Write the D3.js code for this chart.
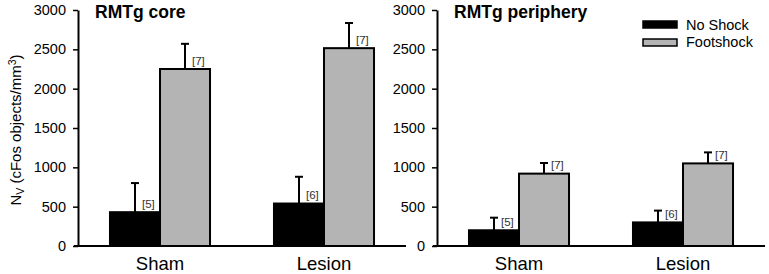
<!DOCTYPE html>
<html>
<head>
<meta charset="utf-8">
<script src="https://cdn.jsdelivr.net/npm/d3@7"></script>
<style>
  body { margin: 0; background: #fff; }
  svg { font-family: "Liberation Sans", Arial, sans-serif; }
</style>
</head>
<body>
<div id="chart"></div>
<script>
// data
const groups = ["Sham", "Lesion"];
const conditions = ["No Shock", "Footshock"];
const yTicks = [0, 500, 1000, 1500, 2000, 2500, 3000];

const coreMean = [[430, 2250], [540, 2515]];
const coreErr = [[370, 320], [340, 320]];
const coreN = [["[5]", "[7]"], ["[6]", "[7]"]];

const periMean = [[200, 920], [300, 1050]];
const periErr = [[160, 135], [150, 140]];
const periN = [["[5]", "[7]"], ["[6]", "[7]"]];

const fills = ["#000000", "#b4b4b4"];

const W = 769, H = 274;
const svg = d3.select("#chart").append("svg")
  .attr("width", W)
  .attr("height", H);

const y = d3.scaleLinear().domain([0, 3000]).range([246, 10]);

function drawPanel(x0, x1, title, means, errs, ns) {
  const x = d3.scaleBand()
    .domain(groups)
    .range([x0, x1])
    .paddingInner(0.39)
    .paddingOuter(0.195);
  const xs = d3.scaleBand()
    .domain(conditions)
    .range([0, x.bandwidth()]);

  const g = svg.append("g");

  // bars
  groups.forEach((grp, gi) => {
    conditions.forEach((c, ci) => {
      const bx = x(grp) + xs(c);
      const cx = bx + xs.bandwidth() / 2;
      const top = y(means[gi][ci]);
      const etop = y(means[gi][ci] + errs[gi][ci]);

      g.append("line")
        .attr("x1", cx).attr("x2", cx)
        .attr("y1", top).attr("y2", etop)
        .attr("stroke", "#000").attr("stroke-width", 2);
      g.append("line")
        .attr("x1", cx - 4).attr("x2", cx + 4)
        .attr("y1", etop).attr("y2", etop)
        .attr("stroke", "#000").attr("stroke-width", 2);

      g.append("rect")
        .attr("x", bx)
        .attr("y", top)
        .attr("width", xs.bandwidth())
        .attr("height", y(0) - top)
        .attr("fill", fills[ci])
        .attr("stroke", "#000")
        .attr("stroke-width", 2);

      g.append("text")
        .attr("x", cx + 7)
        .attr("y", top - 4.5)
        .attr("font-size", 11.5)
        .attr("fill", "#333")
        .text(ns[gi][ci]);
    });
  });

  // y axis
  const ay = g.append("g")
    .attr("transform", `translate(${x0},0)`)
    .call(d3.axisLeft(y).tickValues(yTicks).tickFormat(d3.format("d"))
      .tickSize(5).tickPadding(7).tickSizeOuter(0));
  ay.select(".domain").attr("stroke-width", 2);
  ay.selectAll(".tick line").attr("stroke-width", 1.5);
  ay.selectAll("text").attr("font-size", 14.5).attr("font-family", "Liberation Sans, Arial, sans-serif").attr("fill", "#000");

  // x axis
  g.append("line")
    .attr("x1", x0 - 4).attr("x2", x1)
    .attr("y1", y(0)).attr("y2", y(0))
    .attr("stroke", "#000").attr("stroke-width", 2);

  g.selectAll(".xlab")
    .data(groups)
    .join("text")
    .attr("x", d => x(d) + x.bandwidth() / 2)
    .attr("y", 270)
    .attr("text-anchor", "middle")
    .attr("font-size", 18.5)
    .text(d => d);

  g.append("text")
    .attr("x", x0 + 17)
    .attr("y", 18)
    .attr("font-size", 17.5)
    .attr("font-weight", "bold")
    .text(title);
}

drawPanel(78, 406, "RMTg core", coreMean, coreErr, coreN);
drawPanel(437, 765, "RMTg periphery", periMean, periErr, periN);

// y axis title
const yl = svg.append("text")
  .attr("transform", "translate(21,130) rotate(-90)")
  .attr("text-anchor", "middle")
  .attr("font-size", 15);
yl.append("tspan").text("N");
yl.append("tspan").attr("font-size", 10.5).attr("dy", 3).text("V");
yl.append("tspan").attr("dy", -3).text(" (cFos objects/mm");
yl.append("tspan").attr("font-size", 10.5).attr("dy", -5.5).text("3");
yl.append("tspan").attr("dy", 5.5).text(")");

// legend
const legend = svg.append("g");
conditions.forEach((c, i) => {
  legend.append("rect")
    .attr("x", 643)
    .attr("y", 21 + i * 18)
    .attr("width", 34)
    .attr("height", 7)
    .attr("fill", fills[i])
    .attr("stroke", "#000")
    .attr("stroke-width", 1.5);
  legend.append("text")
    .attr("x", 686)
    .attr("y", 29.5 + i * 17.5)
    .attr("font-size", 14.5)
    .text(c);
});
</script>
</body>
</html>
